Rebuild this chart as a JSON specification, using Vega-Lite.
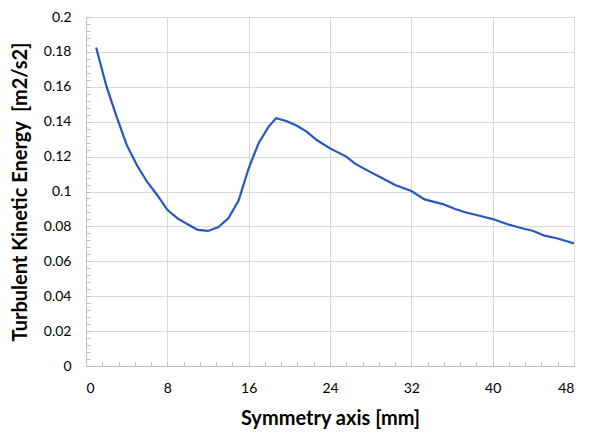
{
  "$schema": "https://vega.github.io/schema/vega-lite/v6.json",
  "width": 488,
  "height": 349,
  "autosize": {"type": "none"},
  "padding": {"left": 86, "top": 17, "right": 26, "bottom": 77},
  "background": "white",
  "config": {
    "view": {"stroke": null},
    "font": "Lato",
    "axis": {
      "labelFont": "Lato",
      "labelFontSize": 14,
      "labelColor": "#000000",
      "titleFont": "Lato",
      "titleFontWeight": "bold",
      "titleFontSize": 20,
      "titleColor": "#000000",
      "domainColor": "#bfbfbf",
      "domainWidth": 1,
      "tickColor": "#bfbfbf",
      "tickSize": -4,
      "tickWidth": 1,
      "gridColor": "#d9d9d9",
      "gridWidth": 1,
      "labelPadding": 19
    }
  },
  "data": {
    "values": [
      {"x": 1, "tke": 0.1825},
      {"x": 2, "tke": 0.1605},
      {"x": 3, "tke": 0.143},
      {"x": 4, "tke": 0.1267},
      {"x": 5, "tke": 0.1152},
      {"x": 6, "tke": 0.1056},
      {"x": 7, "tke": 0.098},
      {"x": 8, "tke": 0.0895},
      {"x": 9, "tke": 0.0846},
      {"x": 10, "tke": 0.0812},
      {"x": 11, "tke": 0.078},
      {"x": 12, "tke": 0.0774},
      {"x": 13, "tke": 0.0795},
      {"x": 14, "tke": 0.0846},
      {"x": 15, "tke": 0.0946},
      {"x": 16, "tke": 0.1133},
      {"x": 17, "tke": 0.128},
      {"x": 18, "tke": 0.1375},
      {"x": 18.7, "tke": 0.142},
      {"x": 19.7, "tke": 0.1404},
      {"x": 20.7, "tke": 0.1378},
      {"x": 21.7, "tke": 0.1343},
      {"x": 22.7, "tke": 0.1295},
      {"x": 24, "tke": 0.1247},
      {"x": 25.6, "tke": 0.12},
      {"x": 26.5, "tke": 0.1158},
      {"x": 27.9, "tke": 0.1114},
      {"x": 29.2, "tke": 0.1075},
      {"x": 30.4, "tke": 0.1037},
      {"x": 32, "tke": 0.1003},
      {"x": 33.3, "tke": 0.0955},
      {"x": 35.1, "tke": 0.0928},
      {"x": 36.3, "tke": 0.09},
      {"x": 37.3, "tke": 0.0881},
      {"x": 38.7, "tke": 0.0861},
      {"x": 40, "tke": 0.0842},
      {"x": 41.4, "tke": 0.0814},
      {"x": 42.7, "tke": 0.0792},
      {"x": 44, "tke": 0.0774},
      {"x": 45.1, "tke": 0.0747},
      {"x": 46.3, "tke": 0.0732},
      {"x": 48, "tke": 0.0703}
    ]
  },
  "mark": {"type": "line", "color": "#2457c5", "strokeWidth": 2.2, "clip": true},
  "encoding": {
    "x": {
      "field": "x",
      "type": "quantitative",
      "scale": {"domain": [0, 48], "nice": false, "zero": false},
      "axis": {
        "title": "Symmetry axis [mm]",
        "titlePadding": 13,
        "values": [0, 1.6, 3.2, 4.8, 6.4, 8, 9.6, 11.2, 12.8, 14.4, 16, 17.6, 19.2, 20.8, 22.4, 24, 25.6, 27.2, 28.8, 30.4, 32, 33.6, 35.2, 36.8, 38.4, 40, 41.6, 43.2, 44.8, 46.4, 48],
        "labelExpr": "abs(datum.value/8 - round(datum.value/8)) < 0.000001 ? toString(round(datum.value)) : ''",
        "gridOpacity": {"condition": {"test": "abs(datum.value/8 - round(datum.value/8)) < 0.000001 && datum.value > 0", "value": 1}, "value": 0}
      }
    },
    "y": {
      "field": "tke",
      "type": "quantitative",
      "scale": {"domain": [0, 0.2], "nice": false},
      "axis": {
        "title": "Turbulent Kinetic Energy\u00a0 [m2/s2]",
        "titlePadding": 13,
        "values": [0, 0.004, 0.008, 0.012, 0.016, 0.02, 0.024, 0.028, 0.032, 0.036, 0.04, 0.044, 0.048, 0.052, 0.056, 0.06, 0.064, 0.068, 0.072, 0.076, 0.08, 0.084, 0.088, 0.092, 0.096, 0.1, 0.104, 0.108, 0.112, 0.116, 0.12, 0.124, 0.128, 0.132, 0.136, 0.14, 0.144, 0.148, 0.152, 0.156, 0.16, 0.164, 0.168, 0.172, 0.176, 0.18, 0.184, 0.188, 0.192, 0.196, 0.2],
        "labelExpr": "abs(datum.value*50 - round(datum.value*50)) < 0.000001 ? toString(datum.value) : ''",
        "gridOpacity": {"condition": {"test": "abs(datum.value*50 - round(datum.value*50)) < 0.000001 && datum.value > 0", "value": 1}, "value": 0}
      }
    }
  }
}
